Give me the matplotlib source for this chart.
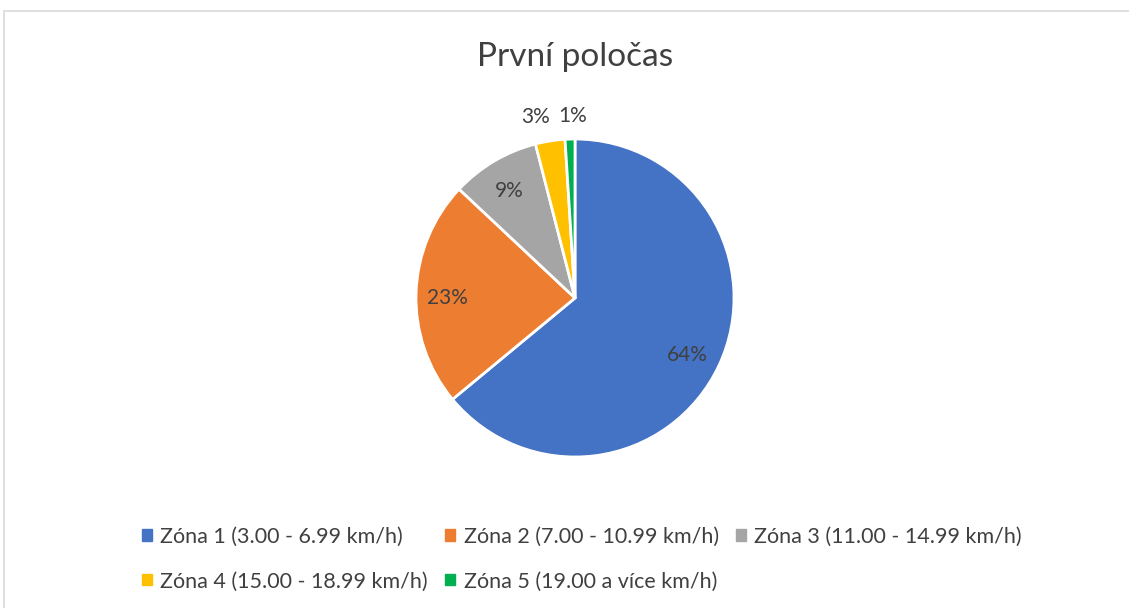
"""Pie chart of speed zone shares, first half."""

import matplotlib.pyplot as plt
from matplotlib.patches import Rectangle
import numpy as np

plt.rcParams["font.family"] = ["Lato", "DejaVu Sans"]

TITLE = "První poločas"
ZONES = [
    "Zóna 1 (3.00 - 6.99 km/h)",
    "Zóna 2 (7.00 - 10.99 km/h)",
    "Zóna 3 (11.00 - 14.99 km/h)",
    "Zóna 4 (15.00 - 18.99 km/h)",
    "Zóna 5 (19.00 a více km/h)",
]
SHARES = [64, 23, 9, 3, 1]
COLORS = ["#4472C4", "#ED7D31", "#A5A5A5", "#FFC000", "#00B050"]
# label placement: radius (fraction of pie radius) and angle nudge in degrees
LABEL_DIST = [0.78, 0.8, 0.81, 1.19, 1.17]
LABEL_NUDGE = [0, 0, 0, 3, -1]
TEXT = "#404040"

W, H = 1129, 608
fig = plt.figure(figsize=(W / 100, H / 100), dpi=100)

# chart frame
fig.add_artist(Rectangle((4 / W, -0.1), 1.2, 1.1 - 11 / H, transform=fig.transFigure,
                         fill=False, edgecolor="#D9D9D9", linewidth=1.2, clip_on=False))

cx, cy, r = 575, 298, 159
ax = fig.add_axes([(cx - r) / W, 1 - (cy + r) / H, 2 * r / W, 2 * r / H])
wedges, _ = ax.pie(SHARES, colors=COLORS, startangle=90, counterclock=False,
                   radius=1, wedgeprops=dict(edgecolor="white", linewidth=2))
ax.set_xlim(-1, 1)
ax.set_ylim(-1, 1)
ax.set_aspect("equal")

for w, val, d, nudge in zip(wedges, SHARES, LABEL_DIST, LABEL_NUDGE):
    ang = np.deg2rad((w.theta1 + w.theta2) / 2 + nudge)
    ax.text(d * np.cos(ang), d * np.sin(ang) - 0.025, f"{val}%", ha="center", va="center",
            fontsize=15, color=TEXT, clip_on=False)

fig.text(575.5 / W, 1 - 57 / H, TITLE, ha="center", va="center", fontsize=24, color=TEXT)

# legend fills column-wise, reorder so entries read row by row
order = [0, 3, 1, 4, 2]
handles = [Rectangle((0, 0), 1, 1, color=COLORS[i]) for i in order]
labels = [ZONES[i] for i in order]
leg = fig.legend(handles, labels, loc="center", bbox_to_anchor=(582 / W, 1 - 559 / H),
                 ncol=3, frameon=False, fontsize=15.5, handlelength=0.45, handleheight=0.45,
                 handletextpad=0.4, columnspacing=0.8, labelspacing=1.15)
for t in leg.get_texts():
    t.set_color(TEXT)

fig.savefig("out.png", dpi=100)
